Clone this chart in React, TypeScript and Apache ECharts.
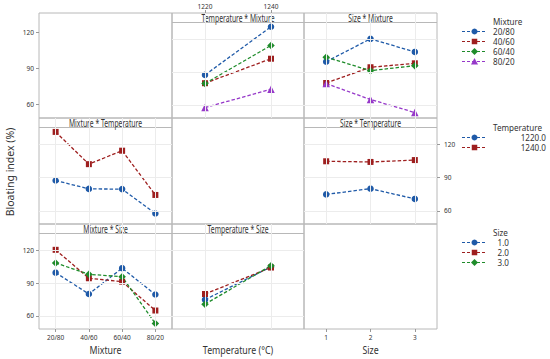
import React, { useEffect, useRef } from 'react';
import * as echarts from 'echarts';

// ---------- data ----------
const mixtures = ['20/80', '40/60', '60/40', '80/20'];
const temperatures = ['1220', '1240'];
const sizes = ['1', '2', '3'];
const mixtureLegend = ['20/80', '40/60', '60/40', '80/20'];
const temperatureLegend = ['1220.0', '1240.0'];
const sizeLegend = ['1.0', '2.0', '3.0'];
const yTicks = [60, 90, 120];

// cell means: mixture x temperature (over mixtures)
const meanMixT1220 = [87.4, 79.8, 79.6, 57.5];
const meanMixT1240 = [131.4, 102.2, 114.4, 74.3];
// cell means: mixture x size (over mixtures)
const meanMixS1 = [99.5, 80.0, 103.6, 79.5];
const meanMixS2 = [120.4, 94.4, 91.3, 64.9];
const meanMixS3 = [108.4, 98.0, 95.8, 53.0];
// cell means: temperature x size (over temperatures)
const meanTempS1 = [74.8, 104.8];
const meanTempS2 = [80.0, 104.2];
const meanTempS3 = [70.7, 105.9];

// ---------- styles ----------
const FONT = '"Noto Sans", "Open Sans", sans-serif';
const BORDER = '#b8b8b8';
const GRIDC = '#ececec';
const TXT = '#333333';
const COLORS = ['#1f5aa8', '#9e1f1f', '#1f8c2b', '#9638c9'];
const SYMBOLS = ['circle', 'rect', 'diamond', 'triangle'];
const SYMSIZE = [6.5, 6, 7.5, 7.5];

const colX = [39, 172, 304];
const colW = [133, 132, 133];
const rowY = [13, 118, 224];
const rowH = [105, 106, 105];
const colCats = [mixtures, temperatures, sizes];

function App() {
  const ref = useRef<HTMLDivElement>(null);
  useEffect(() => {
    const chart = echarts.init(ref.current!, null, { renderer: 'svg' });

    const grids: any[] = [];
    const xAxes: any[] = [];
    const yAxes: any[] = [];
    for (let r = 0; r < 3; r++) {
      for (let c = 0; c < 3; c++) {
        const idx = r * 3 + c;
        grids.push({
          left: colX[c], top: rowY[r], width: colW[c], height: rowH[r],
          show: true, borderColor: BORDER, borderWidth: 1, backgroundColor: 'transparent',
        });
        const xTop = r === 0 && c === 1;
        const xBottom = r === 2 && (c === 0 || c === 2);
        const xShow = xTop || xBottom;
        xAxes.push({
          gridIndex: idx, type: 'category', data: colCats[c], boundaryGap: true,
          position: xTop ? 'top' : 'bottom',
          axisLine: { show: false },
          axisTick: { show: xShow, alignWithLabel: true, length: 3, lineStyle: { color: '#999' } },
          axisLabel: { show: xShow, fontSize: 6.5, color: TXT, fontFamily: FONT, margin: xTop ? 3 : 5 },
          splitLine: { show: false },
        });
        const yLeft = (r === 0 && c === 0) || (r === 2 && c === 0);
        const yRight = r === 1 && c === 2;
        const yShow = yLeft || yRight;
        const isLabelOnly = r === 0 && c === 0;
        yAxes.push({
          gridIndex: idx, type: 'value',
          min: isLabelOnly ? 48.6 : 48, max: isLabelOnly ? 135.8 : 144,
          position: yRight ? 'right' : 'left',
          axisLine: { show: false },
          axisTick: { show: yShow, length: 3, customValues: yTicks, lineStyle: { color: '#999' } },
          axisLabel: { show: yShow, customValues: yTicks, fontSize: 6.5, color: TXT, fontFamily: FONT, margin: yRight ? 7 : 5 },
          splitLine: { show: false },
        });
      }
    }

    const series: any[] = [];
    const gridPanel = (idx: number, cats: string[]) => {
      series.push({
        type: 'line', xAxisIndex: idx, yAxisIndex: idx, data: [], silent: true, z: 1,
        markLine: {
          silent: true, symbol: ['none', 'none'], label: { show: false },
          lineStyle: { color: GRIDC, type: 'solid', width: 1 },
          data: [...cats.map((k) => ({ xAxis: k })), ...yTicks.map((v) => ({ yAxis: v }))],
        },
      });
    };
    const addLine = (idx: number, name: string, data: number[], k: number) => {
      series.push({
        type: 'line', name, xAxisIndex: idx, yAxisIndex: idx, data, z: 3,
        symbol: SYMBOLS[k], symbolSize: SYMSIZE[k],
        itemStyle: { color: COLORS[k] },
        lineStyle: { color: COLORS[k], width: 1.3, type: [3.5, 2] },
      });
    };

    // row 1 col 2: Temperature * Mixture
    gridPanel(1, temperatures);
    mixtures.forEach((m, i) => addLine(1, m, [meanMixT1220[i], meanMixT1240[i]], i));
    // row 1 col 3: Size * Mixture
    gridPanel(2, sizes);
    mixtures.forEach((m, i) => addLine(2, m, [meanMixS1[i], meanMixS2[i], meanMixS3[i]], i));
    // row 2 col 1: Mixture * Temperature
    gridPanel(3, mixtures);
    addLine(3, '1220', meanMixT1220, 0);
    addLine(3, '1240', meanMixT1240, 1);
    // row 2 col 3: Size * Temperature
    gridPanel(5, sizes);
    temperatures.forEach((t, j) => addLine(5, t, [meanTempS1[j], meanTempS2[j], meanTempS3[j]], j));
    // row 3 col 1: Mixture * Size
    gridPanel(6, mixtures);
    addLine(6, '1', meanMixS1, 0);
    addLine(6, '2', meanMixS2, 1);
    addLine(6, '3', meanMixS3, 2);
    // row 3 col 2: Temperature * Size
    gridPanel(7, temperatures);
    addLine(7, '1', meanTempS1, 0);
    addLine(7, '2', meanTempS2, 1);
    addLine(7, '3', meanTempS3, 2);

    // ---------- graphics ----------
    const graphic: any[] = [];
    const strip = (r: number, c: number, text: string) => {
      const x = colX[c], y = rowY[r], w = colW[c];
      graphic.push({ type: 'line', shape: { x1: x, y1: y + 9.5, x2: x + w, y2: y + 9.5 }, style: { stroke: BORDER, lineWidth: 1 } });
      graphic.push({ type: 'text', x: x + w / 2, y: y + 5.3, scaleX: 0.68, style: { text, textAlign: 'center', textVerticalAlign: 'middle', font: `10px ${FONT}`, fill: TXT } });
    };
    strip(0, 1, 'Temperature * Mixture');
    strip(0, 2, 'Size * Mixture');
    strip(1, 0, 'Mixture * Temperature');
    strip(1, 2, 'Size * Temperature');
    strip(2, 0, 'Mixture * Size');
    strip(2, 1, 'Temperature * Size');

    // axis titles
    const titleY = 350;
    const axisTitle = (x: number, text: string) =>
      graphic.push({ type: 'text', x, y: titleY, scaleX: 0.84, style: { text, textAlign: 'center', textVerticalAlign: 'middle', font: `10.5px ${FONT}`, fill: TXT } });
    axisTitle(colX[0] + colW[0] / 2, 'Mixture');
    axisTitle(colX[1] + colW[1] / 2, 'Temperature (°C)');
    axisTitle(colX[2] + colW[2] / 2, 'Size');
    graphic.push({ type: 'text', x: 10, y: 172, rotation: Math.PI / 2, style: { text: 'Bloating index (%)', textAlign: 'center', textVerticalAlign: 'middle', font: `10.5px ${FONT}`, fill: TXT } });

    // legends
    const marker = (k: number, cx: number, cy: number) => {
      const fill = COLORS[k];
      if (k === 0) return { type: 'circle', shape: { cx, cy, r: 3 }, style: { fill } };
      if (k === 1) return { type: 'rect', shape: { x: cx - 2.75, y: cy - 2.75, width: 5.5, height: 5.5 }, style: { fill } };
      if (k === 2) return { type: 'polygon', shape: { points: [[cx, cy - 3.5], [cx + 3.5, cy], [cx, cy + 3.5], [cx - 3.5, cy]] }, style: { fill } };
      return { type: 'polygon', shape: { points: [[cx, cy - 3.5], [cx + 3.5, cy + 3], [cx - 3.5, cy + 3]] }, style: { fill } };
    };
    const legend = (title: string, items: string[], y0: number, rightAlign: number | null) => {
      graphic.push({ type: 'text', x: 493, y: y0, scaleX: 0.9, style: { text: title, textAlign: 'left', textVerticalAlign: 'middle', font: `9px ${FONT}`, lineHeight: 9, fill: TXT } });
      items.forEach((it, k) => {
        const yy = y0 + 10 * (k + 1);
        graphic.push({ type: 'line', shape: { x1: 462, y1: yy, x2: 487, y2: yy }, style: { stroke: COLORS[k], lineWidth: 1.2, lineDash: [3, 2] } });
        graphic.push(marker(k, 474.5, yy));
        graphic.push({
          type: 'text', x: rightAlign ?? 493, y: yy, scaleX: 0.9,
          style: { text: it, textAlign: rightAlign ? 'right' : 'left', textVerticalAlign: 'middle', font: `9px ${FONT}`, lineHeight: 9, fill: TXT },
        });
      });
    };
    legend('Mixture', mixtureLegend, 21.5, null);
    legend('Temperature', temperatureLegend, 127.5, 546);
    legend('Size', sizeLegend, 232.5, 509);

    chart.setOption({
      animation: false,
      backgroundColor: '#ffffff',
      textStyle: { fontFamily: FONT },
      grid: grids,
      xAxis: xAxes,
      yAxis: yAxes,
      series,
      graphic,
    });
    return () => chart.dispose();
  }, []);
  return <div ref={ref} style={{ position: 'fixed', left: 0, top: 0, width: 550, height: 359, background: '#fff' }} />;
}

export default App;
